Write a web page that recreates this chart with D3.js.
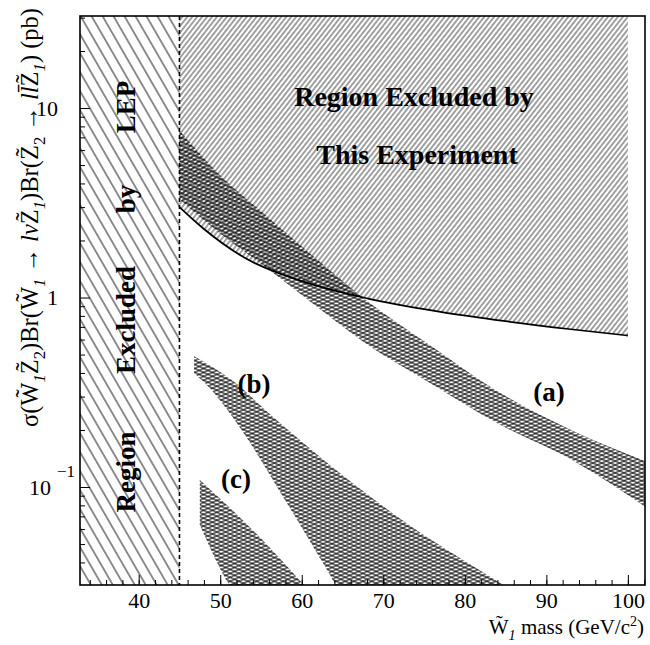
<!DOCTYPE html>
<html>
<head>
<meta charset="utf-8">
<script src="https://cdn.jsdelivr.net/npm/d3@7"></script>
<style>
  body { margin: 0; background: #fff; }
  svg text { font-family: "Liberation Serif", "Times New Roman", serif; fill: #000; }
</style>
</head>
<body>
<svg id="chart" width="650" height="645"></svg>
<script>
// axis ticks
const massTicks = [40, 50, 60, 70, 80, 90, 100];
const sigmaTicks = [0.1, 1, 10];

// LEP limit on the chargino mass (GeV/c^2)
const lepLimit = 45;

// limit curve of this experiment [mass, sigma*Br (pb)]
const limitCurve = [[45, 3.0], [48, 2.3], [53, 1.62], [60, 1.22], [68, 0.99], [77, 0.84], [85, 0.75], [93, 0.68], [100, 0.63]];

// model bands, upper and lower edges
const bandAUpper = [[45, 7.6], [50, 4.4], [55, 2.85], [61, 1.71], [68, 0.96], [76, 0.55], [84, 0.32], [93, 0.20], [102.1, 0.137]];
const bandALower = [[45, 3.3], [50, 2.18], [55, 1.51], [61, 0.955], [68, 0.566], [76, 0.349], [84, 0.217], [93, 0.14], [102.1, 0.079]];
const bandBUpper = [[46.8, 0.49], [51.6, 0.361], [56.1, 0.242], [63.5, 0.13], [72.5, 0.066], [84.4, 0.031], [86.8, 0.0266]];
const bandBLower = [[46.8, 0.398], [47.9, 0.361], [53.3, 0.181], [57.3, 0.095], [61.5, 0.0477], [64.2, 0.030], [64.9, 0.026]];
const bandCUpper = [[47.5, 0.109], [51.2, 0.0774], [56.1, 0.0477], [60.4, 0.030], [61.3, 0.0272]];
const bandCLower = [[47.5, 0.063], [51.2, 0.030], [52.0, 0.0266]];

const svg = d3.select("#chart");
const mLeft = 80, mRight = 645, mTop = 16, mBottom = 585;

const x = d3.scaleLinear().domain([32.8, 102.1]).range([mLeft, mRight]);
const y = d3.scaleLog().domain([0.0304, 30.6]).range([mBottom, mTop]);

const defs = svg.append("defs");
defs.append("clipPath").attr("id", "plot")
  .append("rect").attr("x", mLeft).attr("y", mTop).attr("width", mRight - mLeft).attr("height", mBottom - mTop);

function hatch(id, angle, gap, width, color) {
  const p = defs.append("pattern").attr("id", id)
    .attr("patternUnits", "userSpaceOnUse")
    .attr("width", 20).attr("height", gap)
    .attr("patternTransform", `rotate(${angle})`);
  p.append("line").attr("x1", -1).attr("x2", 21)
    .attr("y1", gap / 2).attr("y2", gap / 2)
    .attr("stroke", color).attr("stroke-width", width);
}
hatch("lep", 60, 9.5, 0.9, "#000");
hatch("exp", -52, 3.9, 0.8, "#111");
hatch("bandP", -24, 3.6, 1.0, "#000");
hatch("bandM", 24, 3.6, 1.0, "#000");

const g = svg.append("g").attr("clip-path", "url(#plot)");
const line = d3.line().x(d => x(d[0])).y(d => y(d[1])).curve(d3.curveMonotoneX);
const poly = d3.line().x(d => x(d[0])).y(d => y(d[1]));

// LEP excluded region
g.append("rect")
  .attr("x", x(x.domain()[0])).attr("y", mTop)
  .attr("width", x(lepLimit) - x(x.domain()[0])).attr("height", mBottom - mTop)
  .attr("fill", "url(#lep)");

// region excluded by this experiment
const yMax = y.domain()[1];
const last = limitCurve[limitCurve.length - 1];
const exclPath = line(limitCurve) + "L" + poly([[last[0], yMax], [limitCurve[0][0], yMax]]).slice(1) + "Z";
g.append("path").attr("d", exclPath).attr("fill", "url(#exp)");

// model bands
[[bandAUpper, bandALower], [bandBUpper, bandBLower], [bandCUpper, bandCLower]].forEach(([up, lo]) => {
  const d = line(up) + "L" + line(lo.slice().reverse()).slice(1) + "Z";
  g.append("path").attr("d", d).attr("fill", "url(#bandP)");
  g.append("path").attr("d", d).attr("fill", "url(#bandM)");
});

// limit curve
g.append("path").attr("d", line(limitCurve))
  .attr("fill", "none").attr("stroke", "#000").attr("stroke-width", 1.7);

// LEP line
g.append("line")
  .attr("x1", x(lepLimit)).attr("x2", x(lepLimit)).attr("y1", mTop).attr("y2", mBottom)
  .attr("stroke", "#000").attr("stroke-width", 1.6).attr("stroke-dasharray", "4,3");

// axes (ticks inward)
const xMinor = d3.range(34, 102.1, 2);
svg.append("g").attr("transform", `translate(0,${mBottom})`)
  .call(d3.axisBottom(x).tickValues(xMinor).tickSize(-5).tickFormat(""))
  .call(a => a.select(".domain").remove());
svg.append("g").attr("transform", `translate(0,${mBottom})`)
  .call(d3.axisBottom(x).tickValues(massTicks).tickSize(-10).tickPadding(7))
  .call(a => a.select(".domain").remove())
  .call(a => a.selectAll("text").attr("font-size", 22).style("font-family", "Liberation Serif"));

const yMinor = [];
[-2, -1, 0, 1].forEach(e => d3.range(2, 10).forEach(k => {
  const v = k * Math.pow(10, e);
  if (v > y.domain()[0] && v < y.domain()[1]) yMinor.push(v);
}));
svg.append("g").attr("transform", `translate(${mLeft},0)`)
  .call(d3.axisLeft(y).tickValues(yMinor).tickSize(-5).tickFormat(""))
  .call(a => a.select(".domain").remove());
svg.append("g").attr("transform", `translate(${mLeft},0)`)
  .call(d3.axisLeft(y).tickValues(sigmaTicks).tickSize(-10).tickFormat(""))
  .call(a => a.select(".domain").remove());

// y tick labels
sigmaTicks.forEach(v => {
  const e = Math.round(Math.log10(v));
  const t = svg.append("text").attr("y", y(v)).attr("dy", "0.35em").attr("font-size", 22);
  if (e < 0) {
    t.attr("x", 51).attr("text-anchor", "end").text("10");
    svg.append("text").attr("x", 57).attr("y", y(v) - 10).attr("font-size", 17).text(String(e).replace("-", "\u2212"));
  } else {
    t.attr("x", 58).attr("text-anchor", "end").text(e === 0 ? "1" : "10");
  }
});

// frame
svg.append("rect").attr("x", mLeft).attr("y", mTop).attr("width", mRight - mLeft).attr("height", mBottom - mTop)
  .attr("fill", "none").attr("stroke", "#000").attr("stroke-width", 1.6);

// rich text helper: parts of [text, kind], kind = "" | "sub" | "it" | "subit"
function rich(sel, parts, size) {
  let shift = 0;
  parts.forEach(([txt, kind]) => {
    const sub = kind.startsWith("sub");
    const target = sub ? size * 0.3 : 0;
    const ts = sel.append("tspan").attr("dy", target - shift).text(txt);
    shift = target;
    if (sub) ts.attr("font-size", size * 0.68);
    if (kind.endsWith("it")) ts.attr("font-style", "italic");
  });
}

// in-plot texts
const big = svg.append("g").attr("font-weight", "bold").attr("text-anchor", "middle");
big.append("text").attr("x", 414).attr("y", 106).attr("font-size", 28).text("Region Excluded by");
big.append("text").attr("x", 417).attr("y", 164).attr("font-size", 28).text("This Experiment");
[["LEP", 107], ["by", 199], ["Excluded", 320], ["Region", 472]].forEach(([w, cy]) => {
  big.append("text").attr("transform", `translate(135,${cy}) rotate(-90)`)
    .attr("font-size", 27).text(w);
});
big.append("text").attr("x", 549).attr("y", 401).attr("font-size", 27).text("(a)");
big.append("text").attr("x", 254).attr("y", 393).attr("font-size", 27).text("(b)");
big.append("text").attr("x", 236).attr("y", 488).attr("font-size", 27).text("(c)");

// axis titles
const W = "W\u0303", Z = "Z\u0303";
const xt = svg.append("text").attr("x", 644).attr("y", 634).attr("text-anchor", "end").attr("font-size", 21);
rich(xt, [[W, ""], ["1", "subit"], [" mass (GeV/c", ""]], 21);
xt.append("tspan").attr("dy", -8).attr("font-size", 14).text("2");
xt.append("tspan").attr("dy", 8).text(")");

const yt = svg.append("text").attr("transform", "translate(38,8) rotate(-90)")
  .attr("text-anchor", "end").attr("font-size", 24.5);
rich(yt, [["\u03c3(", ""], [W, ""], ["1", "subit"], [Z, ""], ["2", "sub"], [")Br(", ""], [W, ""], ["1", "subit"],
  [" \u2192 ", ""], ["l\u03bd", "it"], [Z, ""], ["1", "subit"], [")Br(", ""], [Z, ""], ["2", "sub"],
  [" \u2192 ", ""], ["ll\u0304", "it"], [Z, ""], ["1", "subit"], [") (pb)", ""]], 24.5);
</script>
</body>
</html>
